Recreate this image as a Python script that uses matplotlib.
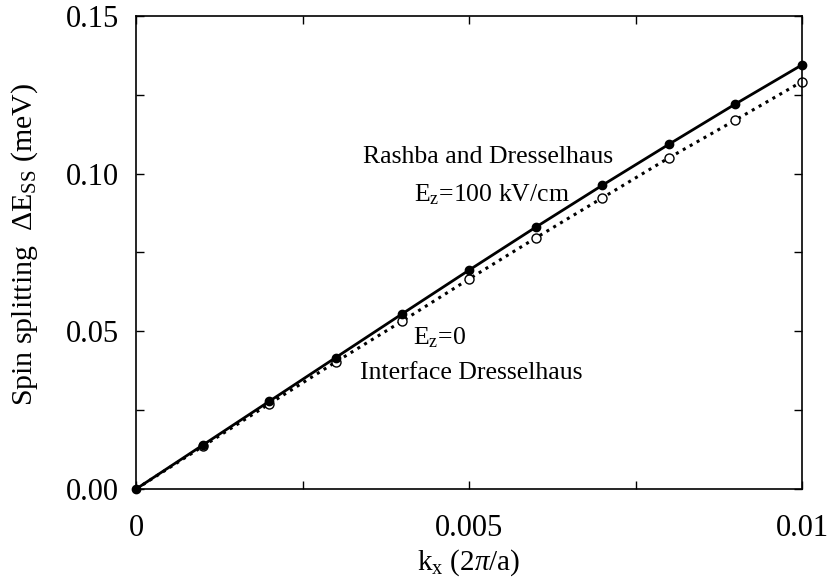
import numpy as np
import matplotlib
matplotlib.use("Agg")
import matplotlib.pyplot as plt
from matplotlib.ticker import MultipleLocator

plt.rcParams['font.family'] = ['Liberation Serif', 'DejaVu Serif']
plt.rcParams['mathtext.fontset'] = 'custom'
plt.rcParams['mathtext.rm'] = 'Liberation Serif'
plt.rcParams['mathtext.it'] = 'Liberation Serif:italic'

# data
kx = [0, 0.001, 0.002, 0.003, 0.004, 0.005, 0.006, 0.007, 0.008, 0.009, 0.010]
rashba = [0, 0.0139, 0.0278, 0.0417, 0.0556, 0.0694, 0.0830, 0.0963, 0.1093, 0.1221, 0.1345]
interface = [0, 0.0135, 0.0270, 0.0403, 0.0533, 0.0666, 0.0796, 0.0923, 0.1050, 0.1170, 0.1292]

fig = plt.figure(figsize=(8.3, 5.83), dpi=100)
ax = fig.add_axes([0.1639, 0.1612, 0.8024, 0.8114])

ax.plot(kx, interface, color='black', lw=2.2, ls=(0, (1, 1.6)), zorder=2, clip_on=False)
ax.plot(kx[1:], interface[1:], ls='none', marker='o', ms=6.5, mfc='white', mec='black', mew=1.0,
        zorder=2, clip_on=False)
ax.plot(kx, rashba, color='black', lw=2.0, marker='o', ms=6, mfc='black', mec='black',
        zorder=3, clip_on=False)

ax.set_xlim(0, 0.01)
ax.set_ylim(0, 0.15)
ax.set_xticks([0, 0.005, 0.01])
ax.set_xticklabels(['0', '0.005', '0.01'])
ax.set_yticks([0, 0.05, 0.10, 0.15])
ax.set_yticklabels(['0.00', '0.05', '0.10', '0.15'])
ax.xaxis.set_minor_locator(MultipleLocator(0.0025))
ax.yaxis.set_minor_locator(MultipleLocator(0.025))
ax.tick_params(which='both', direction='in', top=True, right=True, length=6, width=1.0, labelsize=22)
ax.tick_params(axis='x', pad=18)
ax.tick_params(axis='y', pad=12)

for s in ax.spines.values():
    s.set_linewidth(1.2)

ax.set_xlabel(r'k$_{\rm x}$ (2$\pi$/a)', fontsize=21, labelpad=3)
ax.set_ylabel(r'Spin splitting  $\Delta$E$_{\rm SS}$ (meV)', fontsize=21.5, labelpad=19)
ax.yaxis.label.set_y(0.516)

ax.text(0.005285, 0.1034, 'Rashba and Dresselhaus', fontsize=18.5, ha='center', va='baseline')
ax.text(0.005345, 0.0913, r'E$_{\rm z}$=100 kV/cm', fontsize=18.5, ha='center', va='baseline')
ax.text(0.00416, 0.0457, r'E$_{\rm z}$=0', fontsize=18.5, ha='left', va='baseline')
ax.text(0.00503, 0.0349, 'Interface Dresselhaus', fontsize=18.5, ha='center', va='baseline')

fig.savefig('out.png', dpi=100)
